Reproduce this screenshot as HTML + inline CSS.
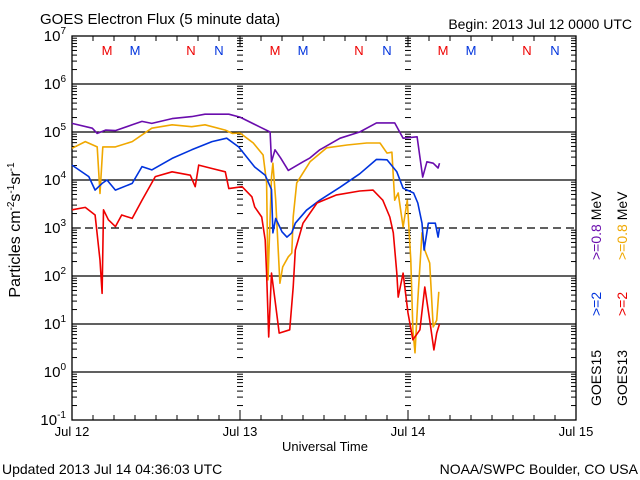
<!DOCTYPE html>
<html><head><meta charset="utf-8"><style>
html,body{margin:0;padding:0;background:#fff;}
svg{display:block;font-family:"Liberation Sans",sans-serif;}
</style></head><body>
<svg id="chart" width="640" height="480" viewBox="0 0 640 480" xmlns="http://www.w3.org/2000/svg">
<rect width="640" height="480" fill="#fff"/>
<text x="40" y="24" font-size="15">GOES Electron Flux (5 minute data)</text>
<text x="632" y="29" font-size="14" text-anchor="end">Begin: 2013 Jul 12 0000 UTC</text>
<text x="2" y="474" font-size="14">Updated 2013 Jul 14 04:36:03 UTC</text>
<text x="638" y="474" font-size="14" text-anchor="end">NOAA/SWPC Boulder, CO USA</text>
<text x="325" y="451" font-size="13" text-anchor="middle">Universal Time</text>
<text transform="translate(20,230) rotate(-90)" font-size="16" text-anchor="middle">Particles cm<tspan dy="-6" font-size="10">-2</tspan><tspan dy="6">s</tspan><tspan dy="-6" font-size="10">-1</tspan><tspan dy="6">sr</tspan><tspan dy="-6" font-size="10">-1</tspan></text>
<g id="axes"></g>
<g id="series"></g>
<g id="legend" font-size="14">
<text transform="translate(601,260) rotate(-90)"><tspan fill="#6a0dad">&gt;=0.8</tspan><tspan fill="#000"> MeV</tspan></text>
<text transform="translate(601,316) rotate(-90)" fill="#0033dd">&gt;=2</text>
<text transform="translate(601,406) rotate(-90)">GOES15</text>
<text transform="translate(627,260) rotate(-90)"><tspan fill="#f0a800">&gt;=0.8</tspan><tspan fill="#000"> MeV</tspan></text>
<text transform="translate(627,316) rotate(-90)" fill="#ee0000">&gt;=2</text>
<text transform="translate(627,406) rotate(-90)">GOES13</text>
</g>
</svg>
<script>
const dayLabels=["Jul 12","Jul 13","Jul 14","Jul 15"];
const yExps=[-1,0,1,2,3,4,5,6,7];
const purple=[[0,5.18],[2.9,5.08],[3.6,4.97],[4.8,5.04],[6.2,5.03],[8.6,5.15],[10,5.22],[11.4,5.18],[14.3,5.28],[17.1,5.32],[19,5.37],[22.4,5.37],[24,5.31],[26.9,5.1],[28.3,5.0],[28.5,4.38],[29,4.63],[29.8,4.46],[30.9,4.2],[33,4.38],[34,4.46],[35.4,4.63],[38.3,4.87],[41.1,5.0],[43.5,5.19],[46.1,5.19],[47.3,4.87],[49.3,4.9],[50.1,4.06],[50.7,4.38],[51.6,4.35],[52.3,4.25],[52.5,4.35]];
const orange=[[0,4.66],[1.9,4.8],[3.6,4.69],[4.0,3.72],[4.4,4.69],[6.2,4.69],[8.6,4.8],[11.4,5.08],[14.3,5.15],[17.1,5.11],[19,5.15],[21.9,5.04],[22.9,4.97],[24,4.98],[25.9,4.77],[27.3,4.52],[27.8,3.94],[28,1.92],[28.5,4.06],[28.7,4.35],[29.1,3.58],[29.7,1.85],[30.1,2.19],[30.9,2.4],[31.4,2.48],[31.6,3.23],[32.1,3.94],[34,4.38],[36.4,4.67],[39.3,4.73],[42.1,4.77],[44,4.77],[45,4.56],[45.7,4.58],[46.1,3.58],[46.6,3.73],[47.3,3.02],[47.9,3.58],[48.4,2.33],[48.7,0.88],[49,0.4],[49.4,1.5],[50,2.9],[50.4,2.54],[51.1,2.27],[51.6,0.94],[52.1,1.08],[52.4,1.67]];
const blue=[[0,4.31],[2.4,4.07],[3.3,3.79],[4.3,3.93],[5,4.0],[6.2,3.79],[8.6,3.93],[10,4.28],[11.4,4.21],[14.3,4.45],[17.1,4.63],[20,4.8],[22.1,4.87],[23.8,4.69],[26.1,4.27],[27.6,4.1],[28.5,3.8],[28.7,2.9],[29.1,3.2],[30,2.92],[30.7,2.81],[31.4,2.9],[31.9,3.1],[33.5,3.37],[35.4,3.58],[38.3,3.85],[41.1,4.13],[43.5,4.43],[45,4.42],[46.4,4.17],[47.3,3.83],[48.8,3.73],[49.4,3.52],[50,3.1],[50.3,2.54],[50.9,3.1],[51.9,3.1],[52.3,2.81],[52.5,3.0]];
const red=[[0,3.38],[1.9,3.43],[3.3,3.27],[4.0,2.33],[4.3,1.64],[4.5,3.38],[5.2,3.17],[6.2,3.03],[7.1,3.27],[8.6,3.2],[10,3.58],[11.9,4.07],[14.3,4.17],[16.9,4.1],[17.6,3.86],[18.1,4.31],[20,4.24],[21.9,4.17],[22.4,3.82],[24.3,3.86],[25.7,3.65],[26.1,3.44],[27.1,3.23],[27.6,2.75],[27.8,2.06],[28.1,0.73],[28.5,2.06],[29,1.5],[29.6,0.81],[31.1,0.88],[31.6,1.77],[31.9,2.54],[33,3.1],[35,3.52],[37.8,3.69],[41.1,3.77],[43,3.79],[44.4,3.58],[45.4,3.23],[45.9,2.9],[46.4,2.06],[46.6,1.56],[47.3,2.06],[48,1.23],[48.7,0.67],[49.7,0.88],[50.4,1.77],[51.1,1.08],[51.7,0.46],[52.1,0.81],[52.5,1.0]];
const markerLetters=[["M",5,"#ee0000"],["M",9,"#0033dd"],["N",17,"#ee0000"],["N",21,"#0033dd"]];

const X0=72,X1=576,Y0=36,Y1=420;
function xs(h){return X0+(X1-X0)*h/72;}
function ys(l){return Y0+(7-l)*(Y1-Y0)/8;}
const NS="http://www.w3.org/2000/svg";
function mk(tag,attrs,parent){const e=document.createElementNS(NS,tag);for(const k in attrs)e.setAttribute(k,attrs[k]);parent.appendChild(e);return e;}
const ax=document.getElementById('axes');
yExps.forEach(e=>{
  if(e<=-1||e>=7)return;
  const l=mk('line',{x1:X0,x2:X1,y1:ys(e),y2:ys(e),stroke:'#000','stroke-width':1.3},ax);
  
  
  if(e===3)l.setAttribute('stroke-dasharray','8,5');
});
const fr=mk('rect',{x:X0,y:Y0,width:X1-X0,height:Y1-Y0,fill:'none',stroke:'#000','stroke-width':1.3},ax);


yExps.forEach(e=>{
  const t=mk('text',{x:X0-6,y:ys(e)+5,'font-size':15,'text-anchor':'end'},ax);
  
  
  t.innerHTML='10<tspan dy="-7" font-size="10">'+e+'</tspan>';
  if(e<7){for(let m=2;m<=9;m++){const yy=ys(e+Math.log10(m));
    mk('line',{x1:X0,x2:X0+5,y1:yy,y2:yy,stroke:'#000'},ax);
    mk('line',{x1:X1-5,x2:X1,y1:yy,y2:yy,stroke:'#000'},ax);
    [24,48].forEach(h=>mk('line',{x1:xs(h)-3,x2:xs(h)+3,y1:yy,y2:yy,stroke:'#000'},ax));
  }}
  mk('line',{x1:X0,x2:X0+9,y1:ys(e),y2:ys(e),stroke:'#000'},ax);
});
for(let h=0;h<=72;h+=3){const major=h%24===0;
  mk('line',{x1:xs(h),x2:xs(h),y1:Y1,y2:Y1-(major?10:5),stroke:'#000'},ax);
  mk('line',{x1:xs(h),x2:xs(h),y1:Y0,y2:Y0+(major?10:5),stroke:'#000'},ax);}
dayLabels.forEach((d,i)=>{const t=mk('text',{x:xs(i*24),y:Y1+16,'font-size':13,'text-anchor':'middle'},ax);
  
  
  t.textContent=d;});
[0,24,48].forEach(off=>markerLetters.forEach(m=>{const t=mk('text',{x:xs(off+m[1]),y:55,'font-size':13,'text-anchor':'middle',fill:m[2]},ax);
  
  
  t.textContent=m[0];}));
const sg=document.getElementById('series');
[[purple,'#6a0dad','goes15-0.8mev-line'],[orange,'#f0a800','goes13-0.8mev-line'],[blue,'#0033dd','goes15-2mev-line'],[red,'#ee0000','goes13-2mev-line']].forEach(s=>{
  const d=s[0].map((p,i)=>(i?'L':'M')+xs(p[0]).toFixed(1)+','+ys(p[1]).toFixed(1)).join(' ');
  const p=mk('path',{d:d,fill:'none',stroke:s[1],'stroke-width':1.6,'stroke-linejoin':'round'},sg);
  
  
});
</script>
</body></html>
